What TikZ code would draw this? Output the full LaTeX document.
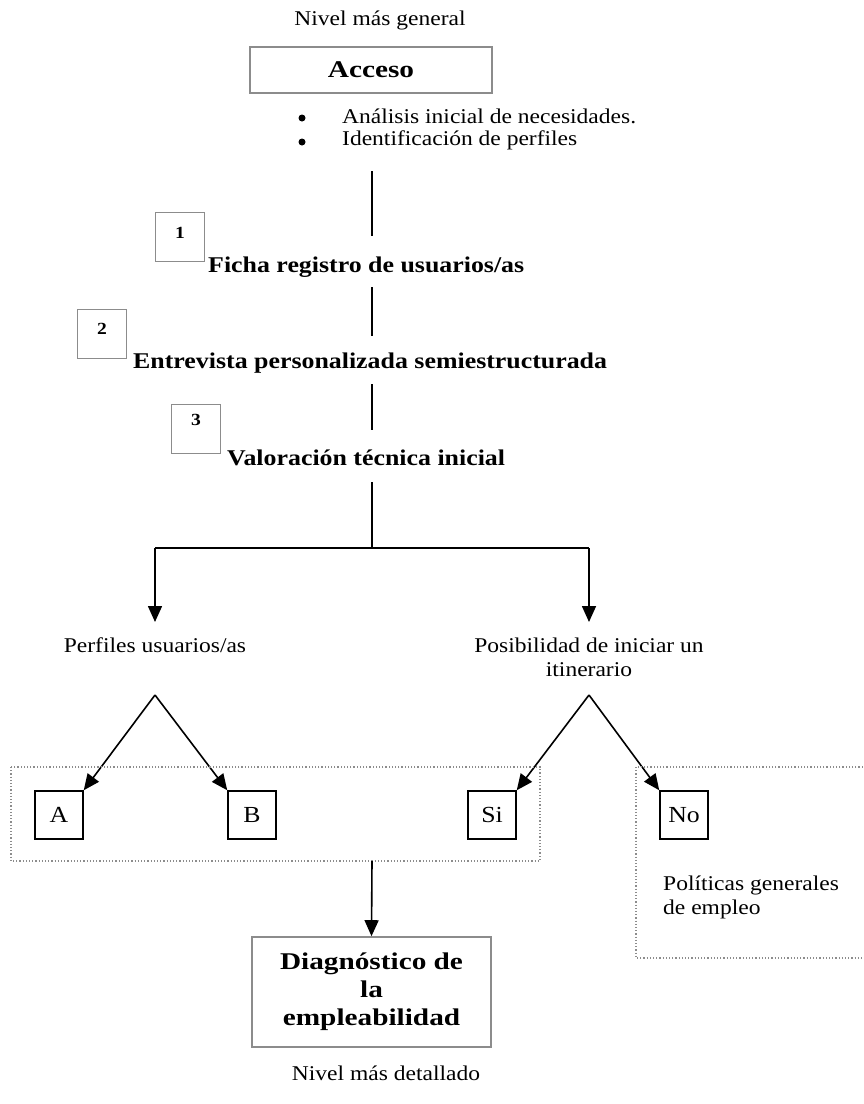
\documentclass[tikz,border=0pt]{standalone}
\usepackage{fontspec}
\setmainfont{Liberation Serif}[FakeStretch=1.12]
\newfontfamily\bfont{Liberation Serif}[FakeStretch=1.15]
\newfontfamily\bwide{Liberation Serif}[FakeStretch=1.22]
\usetikzlibrary{arrows.meta,positioning}
\begin{document}
\begin{tikzpicture}[x=1pt,y=-1pt,
  txt/.style={inner sep=0pt,font=\fontsize{21}{24}\selectfont},
  btxt/.style={inner sep=0pt,anchor=base west,font=\fontsize{22.5}{28}\bfont\bfseries},
  graybox/.style={draw=black!45,line width=1.6pt,inner sep=0pt},
  numbox/.style={graybox,minimum width=49pt,minimum height=49pt},
  numtxt/.style={inner sep=0pt,font=\fontsize{17}{20}\bfont\bfseries},
  letbox/.style={draw=black,line width=1.5pt,minimum width=48pt,minimum height=48pt,inner sep=0pt,font=\fontsize{23}{26}\selectfont},
  dotbox/.style={draw=black!45,line width=1.2pt,dotted},
  conn/.style={draw=black,line width=1.6pt},
  arr/.style={conn,-{Triangle[length=16pt,width=14pt]}},
  dot/.style={circle,fill=black,inner sep=0pt,minimum size=7pt}
]
\useasboundingbox (0,0) rectangle (864,1104);
\fill[white] (0,0) rectangle (864,1104);

% top
\node[txt] (gen) at (380,20) {Nivel más general};
\node[graybox,minimum width=242pt,minimum height=46pt,font=\fontsize{24}{28}\bwide\bfseries] (acc) at (371,70) {Acceso};
\node[dot] (d1) at (302,118) {};
\node[txt,anchor=west] (b1) at (342,116) {Análisis inicial de necesidades.};
\node[dot] (d2) at (302,142) {};
\node[txt,anchor=west] (b2) at (342,140) {Identificación de perfiles};

% step 1
\coordinate (l1a) at (372,171);
\coordinate (l1b) at (372,236);
\draw[conn] (l1a) -- (l1b);
\node[numbox] (n1) at (180,237) {};
\node[numtxt] (t1) at ([yshift=4pt]n1.center) {1};
\node[btxt] (s1) at (208,272) {Ficha registro de usuarios/as};

% step 2
\coordinate (l2a) at (372,287);
\coordinate (l2b) at (372,336);
\draw[conn] (l2a) -- (l2b);
\node[numbox] (n2) at (102,334) {};
\node[numtxt] (t2) at ([yshift=5pt]n2.center) {2};
\node[btxt] (s2) at (133,368) {Entrevista personalizada semiestructurada};

% step 3
\coordinate (l3a) at (372,384);
\coordinate (l3b) at (372,430);
\draw[conn] (l3a) -- (l3b);
\node[numbox] (n3) at (196,429) {};
\node[numtxt] (t3) at ([yshift=9pt]n3.center) {3};
\node[btxt] (s3) at (227,465) {Valoración técnica inicial};

% split
\coordinate (l4a) at (372,482);
\coordinate (l4b) at (372,548);
\coordinate (sl) at (155,548);
\coordinate (sr) at (589,548);
\draw[conn] (l4a) -- (l4b);
\draw[conn] (sl) -- (sr);
\coordinate (pl) at (155,622);
\coordinate (pr) at (589,622);
\draw[arr] (sl) -- (pl);
\draw[arr] (sr) -- (pr);

\node[txt] (perf) at (155,645) {Perfiles usuarios/as};
\node[txt,align=center] (pos) at (589,657) {Posibilidad de iniciar un\\itinerario};

% boxes
\node[letbox] (A) at (59,815) {A};
\node[letbox] (B) at (252,815) {B};
\node[letbox] (Si) at (492,815) {Si};
\node[letbox] (No) at (684,815) {No};

\coordinate (apl) at (155,695);
\coordinate (apr) at (589,695);
\draw[arr] (apl) -- (A.north east);
\draw[arr] (apl) -- (B.north west);
\draw[arr] (apr) -- (Si.north east);
\draw[arr] (apr) -- (No.north west);

\draw[dotbox] (11,767) rectangle (540,861);
\draw[dotbox] (636,767) rectangle (880,958);

\node[txt,align=left,anchor=west] (pol) at (663,897) {Políticas generales\\de empleo};

% bottom
\coordinate (db) at (372,861);
\node[graybox,minimum width=239pt,minimum height=110pt,align=center,font=\fontsize{24}{28}\bwide\bfseries] (diag) at (371.5,992) {Diagnóstico de\\la\\empleabilidad};
\draw[arr] (db) -- (diag.north);
\node[txt] (det) at (386,1073) {Nivel más detallado};
\end{tikzpicture}
\end{document}
